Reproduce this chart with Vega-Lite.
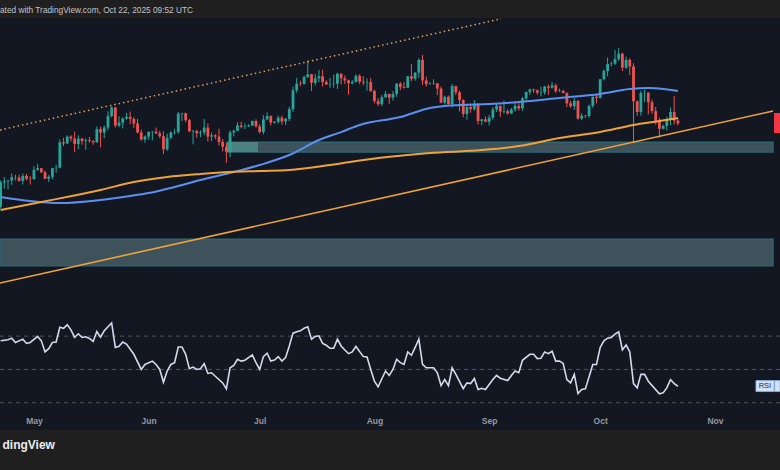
{
  "$schema": "https://vega.github.io/schema/vega-lite/v6.json",
  "background": "#1f1f1f",
  "padding": {"left": 0, "right": 0, "top": 5, "bottom": 20},
  "spacing": 0,
  "title": {"text": "ated with TradingView.com, Oct 22, 2025 09:52 UTC", "anchor": "start", "align": "left", "dx": 0, "frame": "group", "fontSize": 8.3, "font": "Liberation Sans", "fontWeight": "normal", "color": "#c0c3ca", "baseline": "top", "offset": 4},
  "datasets": {
    "candles": [
      {"d":"2025-04-22","o":87.5,"h":93.9,"l":87.0,"c":93.4},
      {"d":"2025-04-23","o":93.4,"h":94.7,"l":91.9,"c":93.7},
      {"d":"2025-04-24","o":93.7,"h":94.0,"l":91.7,"c":93.9},
      {"d":"2025-04-25","o":93.9,"h":95.6,"l":92.8,"c":94.7},
      {"d":"2025-04-26","o":94.7,"h":95.3,"l":93.9,"c":94.6},
      {"d":"2025-04-27","o":94.6,"h":95.3,"l":93.6,"c":93.8},
      {"d":"2025-04-28","o":93.8,"h":95.6,"l":92.9,"c":95.0},
      {"d":"2025-04-29","o":95.0,"h":95.5,"l":93.9,"c":94.3},
      {"d":"2025-04-30","o":94.3,"h":95.0,"l":92.9,"c":94.2},
      {"d":"2025-05-01","o":94.2,"h":97.4,"l":94.1,"c":96.5},
      {"d":"2025-05-02","o":96.5,"h":97.9,"l":96.3,"c":96.9},
      {"d":"2025-05-03","o":96.9,"h":96.9,"l":95.7,"c":95.9},
      {"d":"2025-05-04","o":95.9,"h":96.3,"l":94.2,"c":94.3},
      {"d":"2025-05-05","o":94.3,"h":95.2,"l":93.5,"c":94.8},
      {"d":"2025-05-06","o":94.8,"h":97.0,"l":94.2,"c":96.9},
      {"d":"2025-05-07","o":96.9,"h":97.7,"l":95.8,"c":97.0},
      {"d":"2025-05-08","o":97.0,"h":103.9,"l":96.9,"c":103.2},
      {"d":"2025-05-09","o":103.2,"h":104.3,"l":102.3,"c":102.9},
      {"d":"2025-05-10","o":102.9,"h":104.9,"l":102.8,"c":104.6},
      {"d":"2025-05-11","o":104.6,"h":104.9,"l":103.4,"c":104.1},
      {"d":"2025-05-12","o":104.1,"h":105.8,"l":100.8,"c":102.8},
      {"d":"2025-05-13","o":102.8,"h":104.9,"l":101.5,"c":104.1},
      {"d":"2025-05-14","o":104.1,"h":104.3,"l":102.6,"c":103.5},
      {"d":"2025-05-15","o":103.5,"h":104.1,"l":101.4,"c":103.7},
      {"d":"2025-05-16","o":103.7,"h":104.5,"l":103.1,"c":103.5},
      {"d":"2025-05-17","o":103.5,"h":103.7,"l":102.6,"c":103.2},
      {"d":"2025-05-18","o":103.2,"h":107.1,"l":103.1,"c":106.4},
      {"d":"2025-05-19","o":106.4,"h":107.0,"l":102.0,"c":105.6},
      {"d":"2025-05-20","o":105.6,"h":107.3,"l":104.2,"c":106.8},
      {"d":"2025-05-21","o":106.8,"h":110.8,"l":106.1,"c":109.6},
      {"d":"2025-05-22","o":109.6,"h":112.0,"l":109.3,"c":111.7},
      {"d":"2025-05-23","o":111.7,"h":111.8,"l":106.8,"c":107.3},
      {"d":"2025-05-24","o":107.3,"h":109.5,"l":106.9,"c":108.0},
      {"d":"2025-05-25","o":108.0,"h":109.3,"l":106.6,"c":109.0},
      {"d":"2025-05-26","o":109.0,"h":110.4,"l":108.7,"c":109.4},
      {"d":"2025-05-27","o":109.4,"h":110.7,"l":107.6,"c":108.9},
      {"d":"2025-05-28","o":108.9,"h":109.3,"l":106.7,"c":107.8},
      {"d":"2025-05-29","o":107.8,"h":108.9,"l":105.4,"c":105.6},
      {"d":"2025-05-30","o":105.6,"h":106.3,"l":103.6,"c":103.9},
      {"d":"2025-05-31","o":103.9,"h":104.9,"l":103.1,"c":104.6},
      {"d":"2025-06-01","o":104.6,"h":105.9,"l":103.8,"c":105.7},
      {"d":"2025-06-02","o":105.7,"h":105.9,"l":103.7,"c":105.8},
      {"d":"2025-06-03","o":105.8,"h":106.8,"l":105.2,"c":105.4},
      {"d":"2025-06-04","o":105.4,"h":106.0,"l":104.2,"c":104.7},
      {"d":"2025-06-05","o":104.7,"h":105.9,"l":100.4,"c":101.5},
      {"d":"2025-06-06","o":101.5,"h":105.3,"l":101.1,"c":104.3},
      {"d":"2025-06-07","o":104.3,"h":105.9,"l":103.9,"c":105.6},
      {"d":"2025-06-08","o":105.6,"h":106.5,"l":105.1,"c":105.7},
      {"d":"2025-06-09","o":105.7,"h":110.6,"l":105.3,"c":110.2},
      {"d":"2025-06-10","o":110.2,"h":110.4,"l":108.4,"c":110.3},
      {"d":"2025-06-11","o":110.3,"h":110.4,"l":108.1,"c":108.6},
      {"d":"2025-06-12","o":108.6,"h":108.9,"l":105.7,"c":105.9},
      {"d":"2025-06-13","o":105.9,"h":106.2,"l":102.7,"c":106.0},
      {"d":"2025-06-14","o":106.0,"h":106.2,"l":104.3,"c":105.4},
      {"d":"2025-06-15","o":105.4,"h":106.1,"l":104.5,"c":105.6},
      {"d":"2025-06-16","o":105.6,"h":108.9,"l":104.9,"c":106.8},
      {"d":"2025-06-17","o":106.8,"h":107.8,"l":103.4,"c":104.6},
      {"d":"2025-06-18","o":104.6,"h":105.6,"l":103.5,"c":104.9},
      {"d":"2025-06-19","o":104.9,"h":105.2,"l":103.9,"c":104.6},
      {"d":"2025-06-20","o":104.6,"h":106.5,"l":102.4,"c":103.3},
      {"d":"2025-06-21","o":103.3,"h":104.0,"l":101.0,"c":102.1},
      {"d":"2025-06-22","o":102.1,"h":103.0,"l":98.2,"c":100.9},
      {"d":"2025-06-23","o":100.9,"h":106.1,"l":99.6,"c":105.6},
      {"d":"2025-06-24","o":105.6,"h":106.3,"l":104.6,"c":106.0},
      {"d":"2025-06-25","o":106.0,"h":108.1,"l":105.9,"c":107.3},
      {"d":"2025-06-26","o":107.3,"h":108.2,"l":106.6,"c":107.0},
      {"d":"2025-06-27","o":107.0,"h":107.8,"l":106.4,"c":107.1},
      {"d":"2025-06-28","o":107.1,"h":107.6,"l":106.9,"c":107.3},
      {"d":"2025-06-29","o":107.3,"h":108.5,"l":107.2,"c":108.4},
      {"d":"2025-06-30","o":108.4,"h":108.8,"l":106.8,"c":107.1},
      {"d":"2025-07-01","o":107.1,"h":107.6,"l":105.3,"c":105.7},
      {"d":"2025-07-02","o":105.7,"h":109.8,"l":105.1,"c":108.8},
      {"d":"2025-07-03","o":108.8,"h":110.5,"l":108.6,"c":109.6},
      {"d":"2025-07-04","o":109.6,"h":109.8,"l":107.3,"c":108.0},
      {"d":"2025-07-05","o":108.0,"h":108.4,"l":107.8,"c":108.2},
      {"d":"2025-07-06","o":108.2,"h":109.7,"l":107.8,"c":109.2},
      {"d":"2025-07-07","o":109.2,"h":109.7,"l":107.5,"c":108.3},
      {"d":"2025-07-08","o":108.3,"h":109.2,"l":107.4,"c":108.9},
      {"d":"2025-07-09","o":108.9,"h":111.9,"l":108.4,"c":111.3},
      {"d":"2025-07-10","o":111.3,"h":116.8,"l":110.6,"c":115.9},
      {"d":"2025-07-11","o":115.9,"h":118.9,"l":115.3,"c":117.5},
      {"d":"2025-07-12","o":117.5,"h":118.2,"l":116.9,"c":117.4},
      {"d":"2025-07-13","o":117.4,"h":119.5,"l":117.3,"c":119.1},
      {"d":"2025-07-14","o":119.1,"h":123.2,"l":118.9,"c":119.8},
      {"d":"2025-07-15","o":119.8,"h":119.9,"l":115.7,"c":117.7},
      {"d":"2025-07-16","o":117.7,"h":119.9,"l":117.1,"c":118.8},
      {"d":"2025-07-17","o":118.8,"h":120.9,"l":117.9,"c":119.3},
      {"d":"2025-07-18","o":119.3,"h":120.9,"l":116.8,"c":117.9},
      {"d":"2025-07-19","o":117.9,"h":118.3,"l":117.2,"c":117.3},
      {"d":"2025-07-20","o":117.3,"h":118.9,"l":116.5,"c":117.4},
      {"d":"2025-07-21","o":117.4,"h":119.7,"l":116.5,"c":117.5},
      {"d":"2025-07-22","o":117.5,"h":120.2,"l":116.2,"c":119.9},
      {"d":"2025-07-23","o":119.9,"h":120.1,"l":117.3,"c":118.8},
      {"d":"2025-07-24","o":118.8,"h":119.5,"l":117.4,"c":118.3},
      {"d":"2025-07-25","o":118.3,"h":118.5,"l":114.8,"c":117.6},
      {"d":"2025-07-26","o":117.6,"h":118.4,"l":117.3,"c":117.9},
      {"d":"2025-07-27","o":117.9,"h":119.8,"l":117.8,"c":119.4},
      {"d":"2025-07-28","o":119.4,"h":119.8,"l":117.4,"c":118.0},
      {"d":"2025-07-29","o":118.0,"h":119.3,"l":117.1,"c":117.8},
      {"d":"2025-07-30","o":117.8,"h":118.8,"l":115.8,"c":117.9},
      {"d":"2025-07-31","o":117.9,"h":118.9,"l":115.5,"c":115.7},
      {"d":"2025-08-01","o":115.7,"h":116.1,"l":112.7,"c":113.3},
      {"d":"2025-08-02","o":113.3,"h":114.0,"l":112.0,"c":112.5},
      {"d":"2025-08-03","o":112.5,"h":114.7,"l":112.0,"c":114.2},
      {"d":"2025-08-04","o":114.2,"h":115.7,"l":114.1,"c":115.0},
      {"d":"2025-08-05","o":115.0,"h":115.1,"l":112.6,"c":114.1},
      {"d":"2025-08-06","o":114.1,"h":115.7,"l":113.4,"c":115.0},
      {"d":"2025-08-07","o":115.0,"h":117.6,"l":114.3,"c":117.5},
      {"d":"2025-08-08","o":117.5,"h":117.9,"l":115.9,"c":116.7},
      {"d":"2025-08-09","o":116.7,"h":117.9,"l":116.3,"c":116.5},
      {"d":"2025-08-10","o":116.5,"h":119.3,"l":116.5,"c":119.3},
      {"d":"2025-08-11","o":119.3,"h":122.3,"l":118.1,"c":118.7},
      {"d":"2025-08-12","o":118.7,"h":120.3,"l":118.2,"c":120.2},
      {"d":"2025-08-13","o":120.2,"h":123.7,"l":118.9,"c":123.3},
      {"d":"2025-08-14","o":123.3,"h":124.5,"l":117.2,"c":118.3},
      {"d":"2025-08-15","o":118.3,"h":119.2,"l":116.8,"c":117.4},
      {"d":"2025-08-16","o":117.4,"h":117.9,"l":117.2,"c":117.5},
      {"d":"2025-08-17","o":117.5,"h":118.6,"l":117.2,"c":117.6},
      {"d":"2025-08-18","o":117.6,"h":117.6,"l":114.7,"c":116.3},
      {"d":"2025-08-19","o":116.3,"h":116.8,"l":112.7,"c":112.9},
      {"d":"2025-08-20","o":112.9,"h":114.6,"l":112.4,"c":114.3},
      {"d":"2025-08-21","o":114.3,"h":114.6,"l":112.4,"c":112.5},
      {"d":"2025-08-22","o":112.5,"h":117.4,"l":111.7,"c":116.9},
      {"d":"2025-08-23","o":116.9,"h":117.0,"l":114.7,"c":115.4},
      {"d":"2025-08-24","o":115.4,"h":115.8,"l":110.7,"c":113.5},
      {"d":"2025-08-25","o":113.5,"h":113.7,"l":109.3,"c":110.1},
      {"d":"2025-08-26","o":110.1,"h":112.4,"l":108.7,"c":111.8},
      {"d":"2025-08-27","o":111.8,"h":112.6,"l":110.4,"c":111.3},
      {"d":"2025-08-28","o":111.3,"h":113.5,"l":110.9,"c":112.6},
      {"d":"2025-08-29","o":112.6,"h":112.7,"l":107.5,"c":108.4},
      {"d":"2025-08-30","o":108.4,"h":108.9,"l":107.4,"c":108.8},
      {"d":"2025-08-31","o":108.8,"h":109.5,"l":108.1,"c":108.2},
      {"d":"2025-09-01","o":108.2,"h":109.9,"l":107.3,"c":109.2},
      {"d":"2025-09-02","o":109.2,"h":111.8,"l":108.7,"c":111.2},
      {"d":"2025-09-03","o":111.2,"h":112.6,"l":110.6,"c":112.1},
      {"d":"2025-09-04","o":112.1,"h":112.2,"l":109.4,"c":110.7},
      {"d":"2025-09-05","o":110.7,"h":113.4,"l":110.2,"c":110.8},
      {"d":"2025-09-06","o":110.8,"h":111.3,"l":110.0,"c":110.2},
      {"d":"2025-09-07","o":110.2,"h":111.6,"l":110.2,"c":111.2},
      {"d":"2025-09-08","o":111.2,"h":112.9,"l":110.6,"c":112.1},
      {"d":"2025-09-09","o":112.1,"h":113.3,"l":110.9,"c":111.5},
      {"d":"2025-09-10","o":111.5,"h":114.3,"l":110.9,"c":113.9},
      {"d":"2025-09-11","o":113.9,"h":115.5,"l":113.4,"c":115.5},
      {"d":"2025-09-12","o":115.5,"h":116.3,"l":114.8,"c":116.1},
      {"d":"2025-09-13","o":116.1,"h":116.3,"l":115.3,"c":115.9},
      {"d":"2025-09-14","o":115.9,"h":116.1,"l":114.8,"c":115.3},
      {"d":"2025-09-15","o":115.3,"h":116.8,"l":114.4,"c":115.4},
      {"d":"2025-09-16","o":115.4,"h":117.0,"l":114.8,"c":116.8},
      {"d":"2025-09-17","o":116.8,"h":117.3,"l":114.8,"c":116.5},
      {"d":"2025-09-18","o":116.5,"h":117.9,"l":116.3,"c":117.1},
      {"d":"2025-09-19","o":117.1,"h":117.5,"l":115.2,"c":115.7},
      {"d":"2025-09-20","o":115.7,"h":116.3,"l":115.5,"c":115.8},
      {"d":"2025-09-21","o":115.8,"h":115.9,"l":115.2,"c":115.2},
      {"d":"2025-09-22","o":115.2,"h":115.4,"l":111.8,"c":112.7},
      {"d":"2025-09-23","o":112.7,"h":113.3,"l":111.6,"c":112.0},
      {"d":"2025-09-24","o":112.0,"h":114.0,"l":111.1,"c":113.3},
      {"d":"2025-09-25","o":113.3,"h":113.5,"l":108.7,"c":109.0},
      {"d":"2025-09-26","o":109.0,"h":110.3,"l":108.6,"c":109.7},
      {"d":"2025-09-27","o":109.7,"h":109.8,"l":109.1,"c":109.6},
      {"d":"2025-09-28","o":109.6,"h":112.4,"l":109.2,"c":112.1},
      {"d":"2025-09-29","o":112.1,"h":114.4,"l":111.6,"c":114.3},
      {"d":"2025-09-30","o":114.3,"h":114.8,"l":112.7,"c":114.0},
      {"d":"2025-10-01","o":114.0,"h":118.6,"l":113.9,"c":118.6},
      {"d":"2025-10-02","o":118.6,"h":121.0,"l":118.3,"c":120.6},
      {"d":"2025-10-03","o":120.6,"h":123.9,"l":119.3,"c":122.3},
      {"d":"2025-10-04","o":122.3,"h":122.9,"l":121.7,"c":122.4},
      {"d":"2025-10-05","o":122.4,"h":125.7,"l":122.1,"c":123.5},
      {"d":"2025-10-06","o":123.5,"h":126.2,"l":123.1,"c":124.8},
      {"d":"2025-10-07","o":124.8,"h":125.1,"l":120.6,"c":121.4},
      {"d":"2025-10-08","o":121.4,"h":124.1,"l":121.1,"c":123.3},
      {"d":"2025-10-09","o":123.3,"h":123.7,"l":119.6,"c":121.7},
      {"d":"2025-10-10","o":121.7,"h":122.5,"l":103.0,"c":113.2},
      {"d":"2025-10-11","o":113.2,"h":113.4,"l":109.7,"c":110.6},
      {"d":"2025-10-12","o":110.6,"h":115.8,"l":109.7,"c":115.2},
      {"d":"2025-10-13","o":115.2,"h":116.0,"l":113.0,"c":115.3},
      {"d":"2025-10-14","o":115.3,"h":115.4,"l":110.0,"c":113.0},
      {"d":"2025-10-15","o":113.0,"h":113.6,"l":110.2,"c":110.8},
      {"d":"2025-10-16","o":110.8,"h":111.8,"l":107.5,"c":108.2},
      {"d":"2025-10-17","o":108.2,"h":109.2,"l":104.3,"c":106.5},
      {"d":"2025-10-18","o":106.5,"h":107.5,"l":106.3,"c":107.2},
      {"d":"2025-10-19","o":107.2,"h":109.4,"l":106.1,"c":108.7},
      {"d":"2025-10-20","o":108.7,"h":111.7,"l":107.4,"c":110.6},
      {"d":"2025-10-21","o":110.6,"h":114.5,"l":107.5,"c":108.5},
      {"d":"2025-10-22","o":108.5,"h":109.0,"l":107.3,"c":107.8}
    ],
    "ma": [
      {"d":"2025-04-22","v":89.86,"s":"MA100"},{"d":"2025-04-30","v":88.88,"s":"MA100"},{"d":"2025-05-08","v":88.39,"s":"MA100"},{"d":"2025-05-19","v":89.13,"s":"MA100"},{"d":"2025-05-27","v":90.1,"s":"MA100"},{"d":"2025-06-01","v":90.83,"s":"MA100"},{"d":"2025-06-08","v":92.3,"s":"MA100"},{"d":"2025-06-15","v":94.0,"s":"MA100"},{"d":"2025-06-24","v":95.96,"s":"MA100"},{"d":"2025-07-01","v":97.66,"s":"MA100"},{"d":"2025-07-09","v":100.1,"s":"MA100"},{"d":"2025-07-17","v":103.76,"s":"MA100"},{"d":"2025-07-23","v":105.7,"s":"MA100"},{"d":"2025-07-28","v":107.42,"s":"MA100"},{"d":"2025-08-08","v":109.37,"s":"MA100"},{"d":"2025-08-16","v":111.57,"s":"MA100"},{"d":"2025-08-24","v":112.3,"s":"MA100"},{"d":"2025-09-01","v":112.54,"s":"MA100"},{"d":"2025-09-09","v":113.03,"s":"MA100"},{"d":"2025-09-20","v":114.0,"s":"MA100"},{"d":"2025-10-01","v":115.0,"s":"MA100"},{"d":"2025-10-09","v":116.2,"s":"MA100"},{"d":"2025-10-14","v":116.44,"s":"MA100"},{"d":"2025-10-18","v":116.2,"s":"MA100"},{"d":"2025-10-22","v":115.71,"s":"MA100"},
      {"d":"2025-04-22","v":86.69,"s":"MA200"},{"d":"2025-05-03","v":88.64,"s":"MA200"},{"d":"2025-05-19","v":91.57,"s":"MA200"},{"d":"2025-05-28","v":93.52,"s":"MA200"},{"d":"2025-06-06","v":94.74,"s":"MA200"},{"d":"2025-06-15","v":95.47,"s":"MA200"},{"d":"2025-06-23","v":95.96,"s":"MA200"},{"d":"2025-07-01","v":96.2,"s":"MA200"},{"d":"2025-07-09","v":96.44,"s":"MA200"},{"d":"2025-07-20","v":97.66,"s":"MA200"},{"d":"2025-08-02","v":99.37,"s":"MA200"},{"d":"2025-08-16","v":100.59,"s":"MA200"},{"d":"2025-08-30","v":101.32,"s":"MA200"},{"d":"2025-09-09","v":102.3,"s":"MA200"},{"d":"2025-09-20","v":104.25,"s":"MA200"},{"d":"2025-10-01","v":105.71,"s":"MA200"},{"d":"2025-10-10","v":107.42,"s":"MA200"},{"d":"2025-10-17","v":108.39,"s":"MA200"},{"d":"2025-10-22","v":109.13,"s":"MA200"}
    ],
    "trend": [
      {"d":"2025-04-21T20:00:00Z","p":68.88},{"d":"2025-11-16T17:00:00Z","p":110.83}
    ],
    "channel": [
      {"d":"2025-04-21T20:00:00Z","p":106.2},{"d":"2025-09-04T05:00:00Z","p":133.32}
    ],
    "zones": [
      {"d":"2025-04-21T20:00:00Z","d2":"2025-11-16T17:00:00Z","y1":73.03,"y2":79.61,"k":"base"},
      {"d":"2025-06-22T04:00:00Z","d2":"2025-11-16T17:00:00Z","y1":100.83,"y2":103.27,"k":"base"},
      {"d":"2025-06-22T04:00:00Z","d2":"2025-06-30T13:00:00Z","y1":100.83,"y2":103.27,"k":"hi"}
    ],
    "pricelabel": [
      {"d":"2025-11-16T23:00:00Z","d2":"2025-11-18T14:00:00Z","y1":105.47,"y2":110.35}
    ],
    "rsi": [
      {"d":"2025-04-22","r":67.2},{"d":"2025-04-24","r":67.8},{"d":"2025-04-25","r":68.8},{"d":"2025-04-26","r":66.2},{"d":"2025-04-28","r":68.2},{"d":"2025-04-29","r":65.6},{"d":"2025-04-30","r":66.2},
      {"d":"2025-05-02","r":69.8},{"d":"2025-05-03","r":67.2},{"d":"2025-05-04","r":60.5},{"d":"2025-05-05","r":62.5},{"d":"2025-05-06","r":66.2},{"d":"2025-05-07","r":66.5},{"d":"2025-05-08","r":75.3},{"d":"2025-05-09","r":74.7},{"d":"2025-05-10","r":76.8},{"d":"2025-05-11","r":73.8},{"d":"2025-05-12","r":69.2},{"d":"2025-05-13","r":71.4},{"d":"2025-05-14","r":69.2},{"d":"2025-05-15","r":69.6},{"d":"2025-05-16","r":68.6},{"d":"2025-05-17","r":66.8},{"d":"2025-05-18","r":72.8},{"d":"2025-05-19","r":69.4},{"d":"2025-05-20","r":73.2},{"d":"2025-05-22","r":77.9},{"d":"2025-05-23","r":63.2},{"d":"2025-05-24","r":63.9},{"d":"2025-05-25","r":66.5},{"d":"2025-05-26","r":65.2},{"d":"2025-05-28","r":59.1},{"d":"2025-05-30","r":50.0},{"d":"2025-05-31","r":53.0},
      {"d":"2025-06-02","r":55.0},{"d":"2025-06-03","r":53.0},{"d":"2025-06-04","r":50.0},{"d":"2025-06-05","r":42.3},{"d":"2025-06-06","r":49.0},{"d":"2025-06-07","r":53.0},{"d":"2025-06-08","r":54.1},{"d":"2025-06-09","r":63.5},{"d":"2025-06-10","r":63.5},{"d":"2025-06-11","r":59.1},{"d":"2025-06-12","r":50.4},{"d":"2025-06-13","r":51.4},{"d":"2025-06-14","r":50.0},{"d":"2025-06-15","r":50.4},{"d":"2025-06-16","r":53.5},{"d":"2025-06-17","r":47.6},{"d":"2025-06-18","r":48.0},{"d":"2025-06-19","r":45.9},{"d":"2025-06-21","r":41.9},{"d":"2025-06-22","r":38.3},{"d":"2025-06-23","r":51.0},{"d":"2025-06-24","r":52.4},{"d":"2025-06-25","r":56.1},{"d":"2025-06-26","r":55.0},{"d":"2025-06-27","r":55.5},{"d":"2025-06-29","r":58.7},{"d":"2025-06-30","r":54.1},
      {"d":"2025-07-01","r":50.0},{"d":"2025-07-02","r":57.7},{"d":"2025-07-03","r":59.7},{"d":"2025-07-04","r":55.0},{"d":"2025-07-05","r":55.6},{"d":"2025-07-06","r":57.7},{"d":"2025-07-07","r":55.0},{"d":"2025-07-08","r":57.1},{"d":"2025-07-09","r":64.1},{"d":"2025-07-10","r":71.8},{"d":"2025-07-11","r":72.6},{"d":"2025-07-12","r":73.2},{"d":"2025-07-13","r":74.7},{"d":"2025-07-14","r":75.6},{"d":"2025-07-15","r":68.2},{"d":"2025-07-16","r":69.8},{"d":"2025-07-17","r":70.2},{"d":"2025-07-18","r":65.6},{"d":"2025-07-19","r":64.5},{"d":"2025-07-20","r":62.7},{"d":"2025-07-21","r":62.7},{"d":"2025-07-22","r":68.2},{"d":"2025-07-23","r":64.1},{"d":"2025-07-24","r":61.7},{"d":"2025-07-25","r":59.5},{"d":"2025-07-26","r":60.5},{"d":"2025-07-27","r":63.8},{"d":"2025-07-29","r":57.7},{"d":"2025-07-30","r":57.5},{"d":"2025-07-31","r":50.0},
      {"d":"2025-08-01","r":42.9},{"d":"2025-08-02","r":39.5},{"d":"2025-08-03","r":44.4},{"d":"2025-08-04","r":49.0},{"d":"2025-08-05","r":46.4},{"d":"2025-08-06","r":50.0},{"d":"2025-08-07","r":56.1},{"d":"2025-08-08","r":54.1},{"d":"2025-08-09","r":53.0},{"d":"2025-08-10","r":60.5},{"d":"2025-08-11","r":58.5},{"d":"2025-08-12","r":63.2},{"d":"2025-08-13","r":68.2},{"d":"2025-08-14","r":53.0},{"d":"2025-08-15","r":51.0},{"d":"2025-08-17","r":51.0},{"d":"2025-08-18","r":48.0},{"d":"2025-08-19","r":40.3},{"d":"2025-08-20","r":43.9},{"d":"2025-08-21","r":40.3},{"d":"2025-08-22","r":51.0},{"d":"2025-08-23","r":47.0},{"d":"2025-08-25","r":38.5},{"d":"2025-08-26","r":41.9},{"d":"2025-08-27","r":41.5},{"d":"2025-08-28","r":44.5},{"d":"2025-08-29","r":37.9},{"d":"2025-08-30","r":38.7},{"d":"2025-08-31","r":37.9},
      {"d":"2025-09-02","r":43.9},{"d":"2025-09-03","r":46.4},{"d":"2025-09-04","r":44.7},{"d":"2025-09-06","r":43.3},{"d":"2025-09-07","r":46.4},{"d":"2025-09-08","r":49.0},{"d":"2025-09-09","r":48.0},{"d":"2025-09-10","r":55.5},{"d":"2025-09-12","r":59.1},{"d":"2025-09-13","r":59.1},{"d":"2025-09-14","r":56.5},{"d":"2025-09-15","r":56.7},{"d":"2025-09-16","r":60.5},{"d":"2025-09-17","r":59.5},{"d":"2025-09-18","r":60.9},{"d":"2025-09-19","r":55.0},{"d":"2025-09-20","r":55.0},{"d":"2025-09-21","r":53.6},{"d":"2025-09-22","r":43.9},{"d":"2025-09-23","r":41.9},{"d":"2025-09-24","r":47.0},{"d":"2025-09-25","r":35.5},{"d":"2025-09-26","r":37.9},{"d":"2025-09-27","r":38.3},{"d":"2025-09-29","r":53.0},{"d":"2025-09-30","r":53.0},
      {"d":"2025-10-01","r":63.2},{"d":"2025-10-02","r":67.2},{"d":"2025-10-03","r":68.8},{"d":"2025-10-04","r":69.2},{"d":"2025-10-05","r":71.2},{"d":"2025-10-06","r":72.6},{"d":"2025-10-07","r":61.7},{"d":"2025-10-08","r":64.7},{"d":"2025-10-09","r":60.5},{"d":"2025-10-10","r":41.5},{"d":"2025-10-11","r":38.9},{"d":"2025-10-12","r":47.0},{"d":"2025-10-13","r":47.0},{"d":"2025-10-14","r":42.9},{"d":"2025-10-17","r":35.3},{"d":"2025-10-18","r":35.9},{"d":"2025-10-19","r":38.9},{"d":"2025-10-20","r":43.9},{"d":"2025-10-21","r":41.5},{"d":"2025-10-22","r":39.9}
    ],
    "levels": [
      {"d":"2025-04-21T20:00:00Z","d2":"2025-11-18T14:00:00Z","y":70},
      {"d":"2025-04-21T20:00:00Z","d2":"2025-11-18T14:00:00Z","y":50},
      {"d":"2025-04-21T20:00:00Z","d2":"2025-11-18T14:00:00Z","y":30}
    ],
    "badge": [
      {"d":"2025-11-12T02:00:00Z","d2":"2025-11-16T23:00:00Z","y1":36.7,"y2":43.3},
      {"d":"2025-11-17T03:00:00Z","d2":"2025-11-18T14:00:00Z","y1":36.7,"y2":43.3}
    ],
    "badgetext": [
      {"d":"2025-11-14T12:00:00Z","ym":40,"t":"RSI"}
    ]
  },
  "vconcat": [
    {
      "width": 780,
      "height": 295,
      "encoding": {
        "x": {"field": "d", "type": "temporal", "scale": {"type": "utc", "padding": 0, "domain": [{"year": 2025, "month": 4, "date": 21, "hours": 20, "utc": true}, {"year": 2025, "month": 11, "date": 18, "hours": 14, "utc": true}]}, "axis": {"labels": false, "ticks": false, "grid": false, "domain": true, "domainColor": "#2a2e39", "domainWidth": 1.2, "title": null}}
      },
      "layer": [
        {
          "data": {"name": "zones"},
          "mark": {"type": "rect", "strokeWidth": 1.2, "clip": true},
          "encoding": {
            "x2": {"field": "d2"},
            "y": {"field": "y1", "type": "quantitative", "scale": {"domain": [61.57, 133.52], "nice": false, "zero": false}, "axis": null},
            "y2": {"field": "y2"},
            "fill": {"condition": {"test": "datum.k === 'hi'", "value": "#4c8282"}, "value": "#3d525a"},
            "stroke": {"condition": {"test": "datum.k === 'hi'", "value": "#3d525a00"}, "value": "#2b6b79"}
          }
        },
        {
          "data": {"name": "candles"},
          "mark": {"type": "rule", "strokeWidth": 1, "clip": true},
          "encoding": {
            "y": {"field": "l", "type": "quantitative", "axis": null},
            "y2": {"field": "h"},
            "color": {"condition": {"test": "datum.c >= datum.o", "value": "#26a69a"}, "value": "#ef5350"}
          }
        },
        {
          "data": {"name": "candles"},
          "mark": {"type": "bar", "width": 2.8, "clip": true},
          "encoding": {
            "y": {"field": "o", "type": "quantitative", "axis": null},
            "y2": {"field": "c"},
            "color": {"condition": {"test": "datum.c >= datum.o", "value": "#26a69a"}, "value": "#ef5350"}
          }
        },
        {
          "data": {"name": "ma"},
          "mark": {"type": "line", "interpolate": "monotone", "strokeWidth": 2, "clip": true},
          "encoding": {
            "y": {"field": "v", "type": "quantitative", "axis": null},
            "detail": {"field": "s"},
            "color": {"field": "s", "type": "nominal", "scale": {"domain": ["MA100", "MA200"], "range": ["#5b8ff0", "#eea23a"]}, "legend": null}
          }
        },
        {
          "data": {"name": "trend"},
          "mark": {"type": "line", "strokeWidth": 1.6, "color": "#eea23a", "clip": true},
          "encoding": {
            "y": {"field": "p", "type": "quantitative", "axis": null}
          }
        },
        {
          "data": {"name": "channel"},
          "mark": {"type": "line", "strokeWidth": 1.5, "color": "#e8a04a", "strokeDash": [1.5, 3], "clip": true},
          "encoding": {
            "y": {"field": "p", "type": "quantitative", "axis": null}
          }
        },
        {
          "data": {"name": "pricelabel"},
          "mark": {"type": "rect", "color": "#f23645", "clip": true},
          "encoding": {
            "x2": {"field": "d2"},
            "y": {"field": "y1", "type": "quantitative", "axis": null},
            "y2": {"field": "y2"}
          }
        }
      ]
    },
    {
      "width": 780,
      "height": 117,
      "title": {"text": "dingView", "orient": "bottom", "anchor": "start", "align": "left", "dx": 2.5, "frame": "group", "fontSize": 12, "fontWeight": "bold", "font": "Liberation Sans", "color": "#ececec", "baseline": "top", "offset": 10},
      "encoding": {
        "x": {"field": "d", "type": "temporal", "scale": {"type": "utc", "padding": 0, "domain": [{"year": 2025, "month": 4, "date": 21, "hours": 20, "utc": true}, {"year": 2025, "month": 11, "date": 18, "hours": 14, "utc": true}]}, "axis": {"orient": "bottom", "offset": -14, "domain": false, "ticks": false, "grid": false, "labelPadding": 0, "labelBaseline": "top", "labelExpr": "utcFormat(datum.value, '%b')", "tickCount": {"interval": "month", "step": 1}, "labelColor": "#9598a1", "labelFontSize": 8.5, "labelFontWeight": 600, "labelFont": "Liberation Sans", "labelFlush": false, "labelOverlap": false, "title": null}}
      },
      "layer": [
        {
          "data": {"name": "levels"},
          "mark": {"type": "rule", "color": "#50545f", "strokeDash": [4, 4], "strokeWidth": 1, "clip": true},
          "encoding": {
            "x2": {"field": "d2"},
            "y": {"field": "y", "type": "quantitative", "scale": {"domain": [13.6, 83.9], "nice": false, "zero": false}, "axis": null}
          }
        },
        {
          "data": {"name": "rsi"},
          "mark": {"type": "line", "color": "#d3dbea", "strokeWidth": 1.6, "clip": true},
          "encoding": {
            "y": {"field": "r", "type": "quantitative", "axis": null}
          }
        },
        {
          "data": {"name": "badge"},
          "mark": {"type": "rect", "fill": "#cfe0f7", "stroke": "#8fb3e6", "strokeWidth": 0.8, "clip": true},
          "encoding": {
            "x2": {"field": "d2"},
            "y": {"field": "y1", "type": "quantitative", "axis": null},
            "y2": {"field": "y2"}
          }
        },
        {
          "data": {"name": "badgetext"},
          "mark": {"type": "text", "color": "#1c2a4a", "fontSize": 7.5, "font": "Liberation Sans", "baseline": "middle", "align": "center", "clip": true},
          "encoding": {
            "y": {"field": "ym", "type": "quantitative", "axis": null},
            "text": {"field": "t"}
          }
        }
      ]
    }
  ],
  "config": {
    "view": {"fill": "#131722", "stroke": null},
    "axis": {"grid": false},
    "scale": {"continuousPadding": 0}
  }
}
